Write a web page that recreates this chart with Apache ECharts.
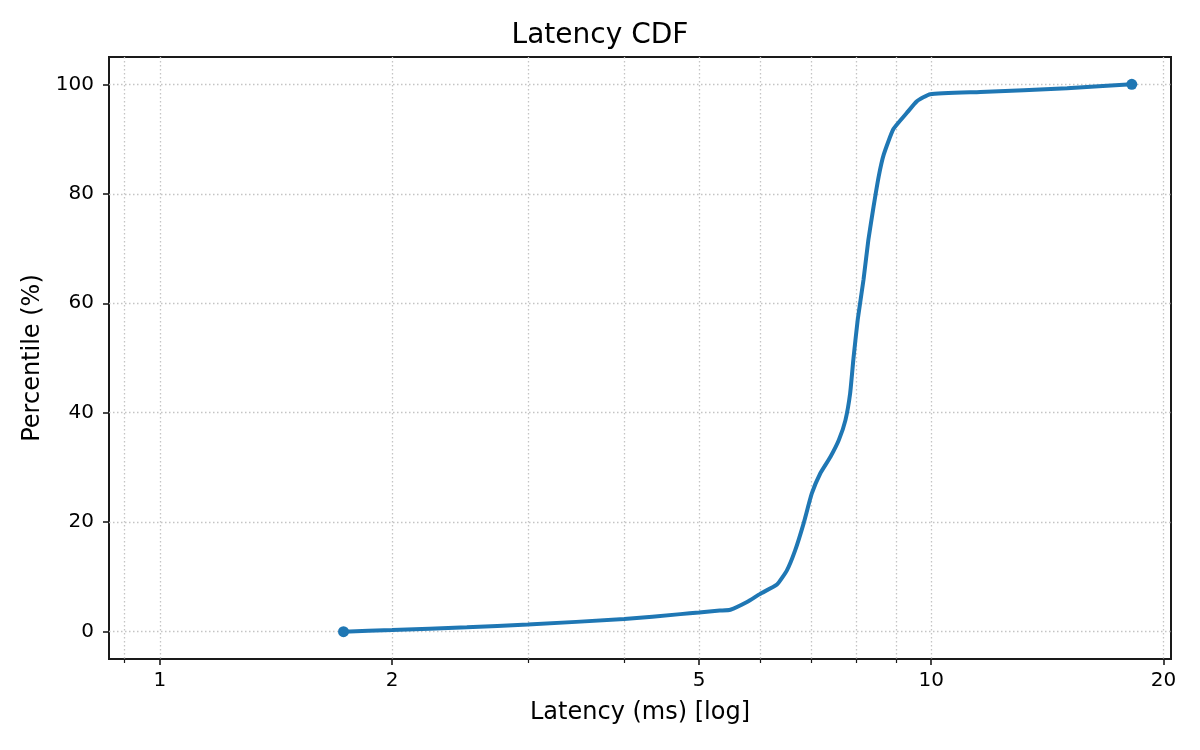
<!DOCTYPE html>
<html>
<head>
<meta charset="utf-8">
<title>Latency CDF</title>
<script src="https://cdn.jsdelivr.net/npm/echarts@6/dist/echarts.min.js"></script>
<style>
  html, body { margin: 0; padding: 0; background: #fff; }
  #chart { width: 1200px; height: 750px; }
</style>
</head>
<body>
<div id="chart"></div>
<script>
// latency (ms) and percentile
var latency = [1.73, 2.0, 2.5, 3.0, 4.0, 4.73, 5.0, 5.32, 5.49, 5.77, 6.0, 6.31, 6.50, 6.66, 6.83, 7.00, 7.18,
  7.40, 7.59, 7.74, 7.85, 7.93, 8.03, 8.17, 8.29, 8.42, 8.55, 8.68, 8.93, 9.30, 9.58, 9.97, 11.58, 15.0, 18.2];
var percentile = [0, 0.3, 0.8, 1.3, 2.3, 3.2, 3.5, 3.85, 4.0, 5.4, 6.9, 8.6, 11.2, 14.8, 19.7, 25.2, 28.9,
  31.9, 35.0, 38.6, 43.5, 50.0, 57.0, 64.3, 71.6, 77.7, 83.2, 87.2, 91.8, 94.8, 96.9, 98.2, 98.6, 99.3, 100];

var xMajorTicks = [1, 2, 5, 10, 20];
var xMinorTicks = [0.9, 3, 4, 6, 7, 8, 9];
var yTicks = [0, 20, 40, 60, 80, 100];

var FONT = 'DejaVu Sans';
var BLUE = '#1f77b4';

var chart = echarts.init(document.getElementById('chart'), null, { renderer: 'canvas' });

var points = latency.map(function (v, i) { return [v, percentile[i]]; });
var ends = [points[0], points[points.length - 1]];

var gridDots = { show: true, lineStyle: { color: '#c4c4c4', width: 1.3, type: [1.5, 2.5] } };

var option = {
  backgroundColor: '#fff',
  animation: false,
  title: {
    text: 'Latency CDF',
    left: 'center',
    top: 17,
    textStyle: { fontFamily: FONT, fontSize: 28, fontWeight: 'normal', color: '#000' }
  },
  grid: {
    left: 109,
    right: 29,
    top: 57,
    bottom: 91,
    show: true,
    borderColor: '#1a1a1a',
    borderWidth: 2,
    containLabel: false
  },
  xAxis: [
    {
      type: 'log',
      logBase: 10,
      min: 0.859,
      max: 20.46,
      position: 'bottom',
      name: 'Latency (ms) [log]',
      nameLocation: 'middle',
      nameGap: 42,
      nameTextStyle: { fontFamily: FONT, fontSize: 24, color: '#000' },
      axisLine: { show: false, onZero: false },
      axisTick: { show: true, length: 6, customValues: xMajorTicks, lineStyle: { color: '#1a1a1a', width: 1.6 } },
      axisLabel: {
        customValues: xMajorTicks,
        margin: 12,
        fontFamily: FONT, fontSize: 20, color: '#000',
        formatter: function (v) { return String(v); }
      },
      splitLine: gridDots
    },
    {
      // minor ticks / minor grid
      type: 'log',
      logBase: 10,
      min: 0.859,
      max: 20.46,
      position: 'bottom',
      axisLine: { show: false, onZero: false },
      axisTick: { show: true, length: 4, customValues: xMinorTicks, lineStyle: { color: '#1a1a1a', width: 1.2 } },
      axisLabel: { show: false },
      splitLine: gridDots
    }
  ],
  yAxis: {
    type: 'value',
    min: -5,
    max: 105,
    name: 'Percentile (%)',
    nameLocation: 'middle',
    nameGap: 60,
    nameTextStyle: { fontFamily: FONT, fontSize: 24, color: '#000' },
    axisLine: { show: false, onZero: false },
    axisTick: { show: true, length: 6, customValues: yTicks, lineStyle: { color: '#1a1a1a', width: 1.6 } },
    axisLabel: { customValues: yTicks, margin: 15, fontFamily: FONT, fontSize: 20, color: '#000' },
    splitLine: gridDots
  },
  series: [
    {
      type: 'line',
      xAxisIndex: 0,
      data: points,
      showSymbol: false,
      symbol: 'none',
      smooth: 0.15,
      lineStyle: { color: BLUE, width: 4 },
      z: 3
    },
    {
      type: 'scatter',
      xAxisIndex: 0,
      data: ends,
      symbol: 'circle',
      symbolSize: 11,
      itemStyle: { color: BLUE, opacity: 1 },
      z: 4
    }
  ]
};

chart.setOption(option);
</script>
</body>
</html>
